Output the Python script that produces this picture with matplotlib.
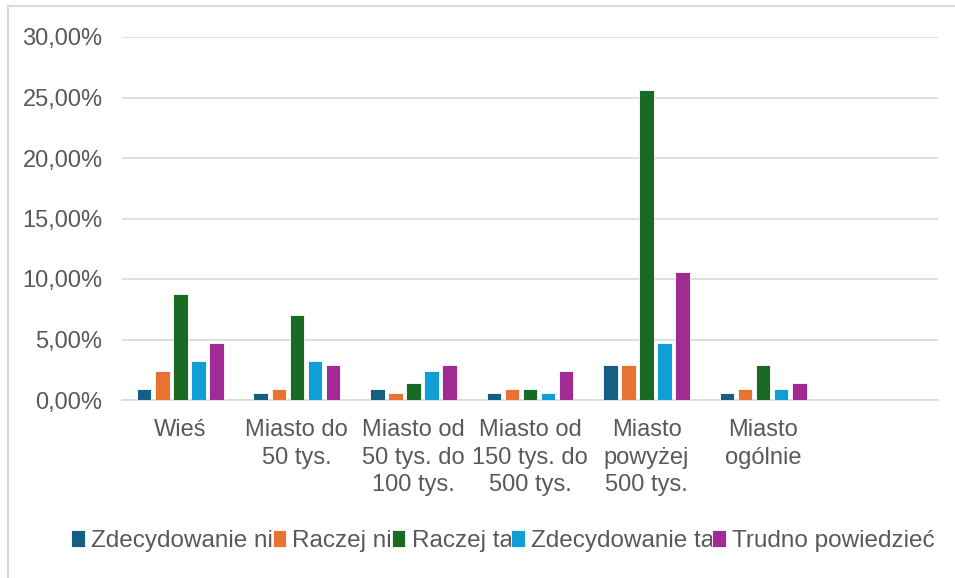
import matplotlib
matplotlib.use("Agg")
import matplotlib.pyplot as plt
from matplotlib.lines import Line2D
from matplotlib.ticker import FuncFormatter
import numpy as np

plt.rcParams['font.family'] = ['Liberation Sans', 'DejaVu Sans']

categories = ["Wieś", "Miasto do\n50 tys.", "Miasto od\n50 tys. do\n100 tys.",
              "Miasto od\n150 tys. do\n500 tys.", "Miasto\npowyżej\n500 tys.",
              "Miasto\nogólnie", ""]
series_names = ["Zdecydowanie nie", "Raczej nie", "Raczej tak",
                "Zdecydowanie tak", "Trudno powiedzieć"]
zdecydowanie_nie = [0.9, 0.55, 0.9, 0.55, 2.9, 0.55, np.nan]
raczej_nie = [2.4, 0.9, 0.55, 0.9, 2.9, 0.9, np.nan]
raczej_tak = [8.8, 7.0, 1.4, 0.9, 25.6, 2.9, np.nan]
zdecydowanie_tak = [3.2, 3.2, 2.4, 0.55, 4.7, 0.9, np.nan]
trudno_powiedziec = [4.7, 2.9, 2.9, 2.4, 10.6, 1.4, np.nan]
yticks = [0, 5, 10, 15, 20, 25, 30]

colors = ["#156082", "#E97132", "#196B24", "#0F9ED5", "#A02B93"]
series = [zdecydowanie_nie, raczej_nie, raczej_tak, zdecydowanie_tak, trudno_powiedziec]

fig = plt.figure(figsize=(9.55, 5.78), dpi=100)
ax = fig.add_axes([122/955, 1-400/578, (938-122)/955, (400-37)/578])

x = np.arange(len(categories))
step = 0.155
width = 0.125
for i, (vals, name, c) in enumerate(zip(series, series_names, colors)):
    ax.bar(x + (i-2)*step, vals, width=width, color=c, label=name,
           edgecolor="white", linewidth=0.6, zorder=3)

ax.set_xlim(-0.5, len(categories)-0.5)
ax.set_ylim(0, 30)
ax.set_yticks(yticks)
ax.yaxis.set_major_formatter(FuncFormatter(lambda v, p: f"{v:.2f}".replace(".", ",") + "%"))
ax.set_xticks(x)
ax.set_xticklabels(categories, linespacing=1.32)
ax.tick_params(axis='both', length=0, labelsize=17, labelcolor="#595959")
ax.tick_params(axis='y', pad=14)
ax.tick_params(axis='x', pad=14)
ax.grid(axis='y', color="#d9d9d9", linewidth=1.2, zorder=0)
for s in ["top", "right", "left"]:
    ax.spines[s].set_visible(False)
ax.spines["bottom"].set_color("#d9d9d9")
ax.spines["bottom"].set_linewidth(1.2)

leg = fig.legend(loc="center", bbox_to_anchor=(503/955, 1-541/578), ncol=5,
                 frameon=False, fontsize=17.5, handlelength=0.55, handleheight=0.65,
                 handletextpad=0.25, columnspacing=-0.55, labelcolor="#595959")

fig.add_artist(Line2D([8/955, 8/955], [0, 1-6/578], color="#d9d9d9", linewidth=1.5,
                      transform=fig.transFigure))
fig.add_artist(Line2D([8/955, 1], [1-6/578, 1-6/578], color="#d9d9d9", linewidth=1.5,
                      transform=fig.transFigure))

fig.savefig("out.png", dpi=100)
